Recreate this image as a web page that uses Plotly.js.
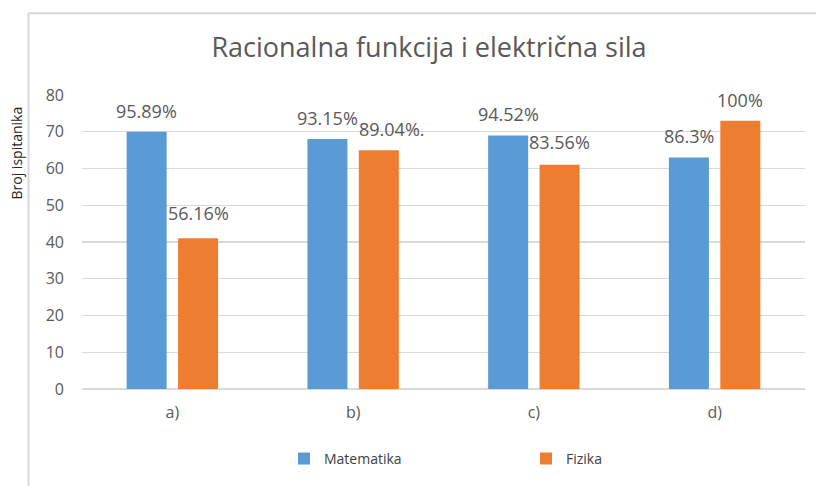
<!DOCTYPE html>
<html>
<head>
<meta charset="utf-8">
<script src="https://cdn.plot.ly/plotly-3.0.1.min.js"></script>
<style>html,body{margin:0;padding:0;background:#fff;}#chart{width:816px;height:486px;}</style>
</head>
<body>
<div id="chart"></div>
<script>
// ---- data ----
var categories = ["a)", "b)", "c)", "d)"];
var seriesNames = ["Matematika", "Fizika"];
var matematika = [70, 68, 69, 63];
var fizika = [41, 65, 61, 73];
var matematikaLabels = ["95.89%", "93.15%", "94.52%", "86.3%"];
var fizikaLabels = ["56.16%", "89.04%.", "83.56%", "100%"];
var yTicks = [0, 10, 20, 30, 40, 50, 60, 70, 80];

// ---- style ----
var blue = "#5b9bd5", orange = "#ed7d31";
var font = "Open Sans, Noto Sans, sans-serif";
var W = 816, H = 486, mL = 82, mR = 11, mT = 95, mB = 94.5;
var pw = W - mL - mR, ph = H - mT - mB;
function px2x(p){ return (p - mL) / pw; }
function py2y(p){ return (H - mB - p) / ph; }
var barOffset = 25.7;
// label nudges (style)
var nudge = {"Fizika-1": {x: 13, y: 0}, "Fizika-0": {x: 0, y: 4}, "Fizika-2": {x: 0, y: 2}};

var traces = [
  {type: "bar", name: seriesNames[0], x: categories, y: matematika, marker: {color: blue}, hoverinfo: "none"},
  {type: "bar", name: seriesNames[1], x: categories, y: fizika, marker: {color: orange}, hoverinfo: "none"}
];

var annotations = [];
[[matematika, matematikaLabels, -1, seriesNames[0]], [fizika, fizikaLabels, 1, seriesNames[1]]].forEach(function(s){
  s[0].forEach(function(v, i){
    var n = nudge[s[3] + "-" + i] || {x: 0, y: 0};
    annotations.push({
      x: categories[i], y: v, xref: "x", yref: "y", text: s[1][i], showarrow: false,
      xanchor: "center", yanchor: "middle",
      xshift: s[2] * barOffset + n.x, yshift: 21 + n.y,
      font: {family: font, size: 18, color: "#595959"}
    });
  });
});
annotations.push({
  xref: "paper", yref: "paper", x: px2x(17), y: py2y(154), text: "Broj ispitanika",
  textangle: -90, showarrow: false, xanchor: "center", yanchor: "middle",
  font: {family: font, size: 14, color: "#262626"}
});

var layout = {
  width: W, height: H,
  margin: {l: mL, r: mR, t: mT, b: mB, pad: 0},
  paper_bgcolor: "#fff", plot_bgcolor: "#fff",
  title: {text: "Racionalna funkcija i električna sila", x: 429 / W, xanchor: "center", xref: "container",
          y: 1 - 48 / H, yanchor: "middle", yref: "container",
          font: {family: font, size: 27, color: "#595959"}},
  barmode: "group", bargap: 0.431, bargroupgap: 0.222,
  xaxis: {type: "category", showgrid: false, showline: false, zeroline: false, ticks: "",
          ticklabelstandoff: 12, tickfont: {family: font, size: 16, color: "#595959"}, fixedrange: true},
  yaxis: {range: [0, 80], tickvals: yTicks, showgrid: true, gridcolor: "#d9d9d9", gridwidth: 1.3,
          zeroline: true, zerolinecolor: "#d9d9d9", zerolinewidth: 1.3, showline: false, ticks: "",
          ticklabelstandoff: 17, tickfont: {family: font, size: 16, color: "#595959"}, fixedrange: true},
  showlegend: true,
  legend: {orientation: "h", x: px2x(284), xanchor: "left", y: py2y(462), yanchor: "middle",
           entrywidth: 197, entrywidthmode: "pixels",
           font: {family: font, size: 14, color: "#404040"}, bgcolor: "rgba(0,0,0,0)"},
  annotations: annotations,
  shapes: [
    {type: "line", xref: "paper", yref: "paper", x0: px2x(28.5), x1: px2x(28.5), y0: py2y(12.5), y1: py2y(500),
     line: {color: "#d9d9d9", width: 2}},
    {type: "line", xref: "paper", yref: "paper", x0: px2x(28.5), x1: px2x(830), y0: py2y(12.5), y1: py2y(12.5),
     line: {color: "#d9d9d9", width: 2}}
  ]
};

Plotly.newPlot("chart", traces, layout, {displayModeBar: false, staticPlot: true});
</script>
</body>
</html>
